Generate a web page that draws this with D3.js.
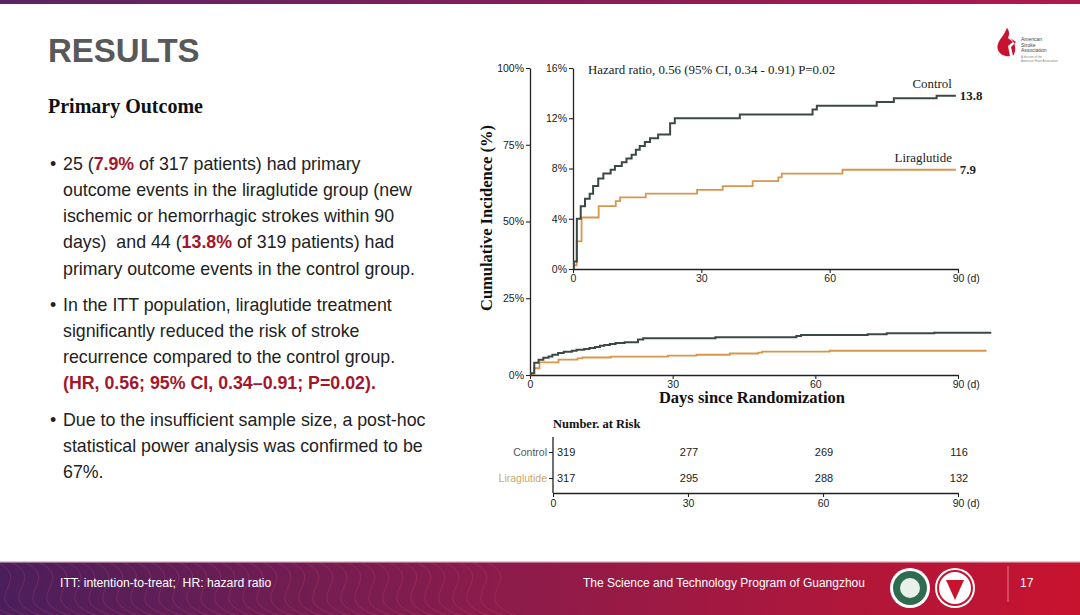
<!DOCTYPE html>
<html><head><meta charset="utf-8">
<script src="https://cdn.jsdelivr.net/npm/d3@7"></script>
<style>
html,body{margin:0;padding:0;background:#fff;}
svg{display:block;}
</style></head>
<body>
<svg id="c" width="1080" height="615"></svg>
<script>
// ---------------- data ----------------
const controlDays = [0, 0.2, 0.9, 1.8, 2.8, 3.9, 4.7, 5.9, 7.1, 8.8, 9.8, 11.4, 12.5, 13.7, 14.7, 15.6, 16.8, 18.0, 19.9, 22.7, 23.8, 39, 56, 57, 71, 75, 85];
const controlPct  = [0, 0.6, 4.0, 5.0, 5.6, 6.0, 6.6, 7.2, 7.6, 7.9, 8.2, 8.5, 8.8, 9.1, 9.5, 9.8, 10.1, 10.4, 10.7, 11.6, 12.0, 12.3, 12.7, 13.0, 13.3, 13.6, 13.8];
const liraDays = [0, 0.2, 0.85, 2.0, 6.0, 10, 11, 17, 29, 35, 42, 48, 48.8, 63];
const liraPct  = [0, 0.3, 2.2, 4.1, 5.0, 5.4, 5.7, 6.0, 6.3, 6.6, 7.0, 7.3, 7.6, 7.9];
const groups = ["Control", "Liraglutide"];
const followUpEnd = [97, 96];          // last follow-up day per group (outer panel)
const finalPct = ["13.8", "7.9"];
const outerTicks = [0, 25, 50, 75, 100];
const insetTicks = [0, 4, 8, 12, 16];
const dayTicks = [0, 30, 60, 90];
const riskTimes = [0, 30, 60, 90];
const controlRisk = [319, 277, 269, 116];
const liraRisk = [317, 295, 288, 132];
const hazardText = "Hazard ratio, 0.56 (95% CI, 0.34 - 0.91) P=0.02";

// ---------------- setup ----------------
const svg = d3.select("#c");
const SANS = "'Liberation Sans', Arial, sans-serif";
const SERIF = "'Liberation Serif', 'Times New Roman', serif";
const colors = ["#3b4845", "#d8964c"];
const RED = "#a3162c";
const defs = svg.append("defs");

// top band
const tg = defs.append("linearGradient").attr("id","tg");
tg.append("stop").attr("offset","0%").attr("stop-color","#5b2466");
tg.append("stop").attr("offset","100%").attr("stop-color","#b0184a");
svg.append("rect").attr("x",0).attr("y",0).attr("width",1080).attr("height",4).attr("fill","url(#tg)");

// footer band
const fg = defs.append("linearGradient").attr("id","fg");
fg.append("stop").attr("offset","0%").attr("stop-color","#4a1f5c");
fg.append("stop").attr("offset","45%").attr("stop-color","#8a1c4c");
fg.append("stop").attr("offset","100%").attr("stop-color","#c8132f");
svg.append("rect").attr("x",0).attr("y",561).attr("width",1080).attr("height",54).attr("fill","url(#fg)");
svg.append("rect").attr("x",0).attr("y",561).attr("width",1080).attr("height",1.5).attr("fill","#e8c8d4");
// decorative wave lines
const waveG = svg.append("g").attr("opacity",0.22);
for (let i = 0; i < 40; i++) {
  const x0 = -60 + i * 14;
  waveG.append("path")
    .attr("d", `M${x0},562 C${x0+40},580 ${x0-20},598 ${x0+30},615`)
    .attr("fill","none").attr("stroke","#ff4d6d").attr("stroke-width",1);
}
svg.append("text").attr("x",60).attr("y",587).attr("fill","#fff").attr("font-family",SANS).attr("font-size",12.2)
  .attr("xml:space","preserve").style("white-space","pre")
  .text("ITT: intention-to-treat;  HR: hazard ratio");
svg.append("text").attr("x",583).attr("y",587).attr("fill","#fff").attr("font-family",SANS).attr("font-size",12)
  .text("The Science and Technology Program of Guangzhou");
// logos
svg.append("circle").attr("cx",910).attr("cy",588).attr("r",20).attr("fill","#fff");
svg.append("circle").attr("cx",910).attr("cy",588).attr("r",17).attr("fill","#2f6b4f");
svg.append("circle").attr("cx",910).attr("cy",588).attr("r",10).attr("fill","#e9efe9");
svg.append("circle").attr("cx",955).attr("cy",588).attr("r",20).attr("fill","#fff");
svg.append("circle").attr("cx",955).attr("cy",588).attr("r",17).attr("fill","none").attr("stroke","#c8132f").attr("stroke-width",2);
svg.append("path").attr("d","M946,580 L964,580 L955,600 Z").attr("fill","#c8132f");
svg.append("line").attr("x1",1008).attr("x2",1008).attr("y1",566).attr("y2",602).attr("stroke","#fff").attr("stroke-opacity",0.45);
svg.append("text").attr("x",1020).attr("y",587).attr("fill","#fff").attr("font-family",SANS).attr("font-size",12).text("17");

// ASA logo top-right
svg.append("path").attr("d","M1004,34 C1000,40 996,44 998,50 C1000,55 1006,57 1010,56 L1008,46 L1013,42 L1008,38 C1010,34 1009,30 1007,28 Z")
  .attr("fill","#c8132f");
svg.append("path").attr("d","M1010,38 L1016,42 L1011,47 L1013,56 C1016,52 1017,44 1010,38 Z").attr("fill","#c8132f");
["American","Stroke","Association"].forEach((t,i)=>{
  svg.append("text").attr("x",1021).attr("y",41+i*5.5).attr("font-family",SANS).attr("font-size",5).attr("fill","#444").text(t);
});
svg.append("text").attr("x",1021).attr("y",58).attr("font-family",SANS).attr("font-size",3).attr("fill","#888").text("A division of the");
svg.append("text").attr("x",1021).attr("y",61.5).attr("font-family",SANS).attr("font-size",3).attr("fill","#888").text("American Heart Association");

// ---------------- left text ----------------
svg.append("text").attr("x",48).attr("y",62).attr("font-family",SANS).attr("font-weight","bold")
  .attr("font-size",33).attr("fill","#595959").text("RESULTS");
svg.append("text").attr("x",48).attr("y",113).attr("font-family",SERIF).attr("font-weight","bold")
  .attr("font-size",20).attr("fill","#111").text("Primary Outcome");

const bulletLines = [
  {y:170, bullet:true, parts:[["25 (",0],["7.9%",1],[" of 317 patients) had primary",0]]},
  {y:196, parts:[["outcome events in the liraglutide group (new",0]]},
  {y:222, parts:[["ischemic or hemorrhagic strokes within 90",0]]},
  {y:248, parts:[["days)  and 44 (",0],["13.8%",1],[" of 319 patients) had",0]]},
  {y:275, parts:[["primary outcome events in the control group.",0]]},
  {y:311, bullet:true, parts:[["In the ITT population, liraglutide treatment",0]]},
  {y:337, parts:[["significantly reduced the risk of stroke",0]]},
  {y:363, parts:[["recurrence compared to the control group.",0]]},
  {y:389, parts:[["(HR, 0.56; 95% CI, 0.34\u20130.91; P=0.02).",1]]},
  {y:426, bullet:true, parts:[["Due to the insufficient sample size, a post-hoc",0]]},
  {y:452, parts:[["statistical power analysis was confirmed to be",0]]},
  {y:478, parts:[["67%.",0]]}
];
const BF = 17.8;
bulletLines.forEach(l=>{
  if (l.bullet) svg.append("text").attr("x",50).attr("y",l.y).attr("font-family",SANS).attr("font-size",BF).attr("fill","#222").text("\u2022");
  const t = svg.append("text").attr("x",63).attr("y",l.y).attr("font-family",SANS).attr("font-size",BF).attr("fill","#222")
    .attr("xml:space","preserve").style("white-space","pre");
  l.parts.forEach(p=>{
    t.append("tspan").text(p[0]).attr("fill",p[1]?RED:"#222").attr("font-weight",p[1]?"bold":"normal");
  });
});

// ---------------- chart ----------------
const series = [
  {name:groups[0], days:controlDays, pct:controlPct, end:followUpEnd[0], color:colors[0], w:2},
  {name:groups[1], days:liraDays, pct:liraPct, end:followUpEnd[1], color:colors[1], w:1.8}
];
series.forEach(s=>{
  s.pts = s.days.map((d,i)=>[d, s.pct[i]]);
  s.pts.push([s.end, s.pct[s.pct.length-1]]);
});

function styleAxis(a){
  a.selectAll("path").attr("stroke","#222").attr("stroke-width",1.3);
  a.selectAll("line").attr("stroke","#222").attr("stroke-width",1.1);
  a.selectAll("text").attr("font-family",SANS).attr("font-size",10.5).attr("fill","#222");
}
function addD(g, xpos, base){
  g.append("text").attr("x",xpos+9).attr("y",base)
    .attr("font-family",SANS).attr("font-size",10.5).attr("fill","#222").text("(d)");
}
function drawAxes(g, x, y, yTicks, yFmt){
  const xa = g.append("g").attr("transform",`translate(0,${y.range()[0]})`)
    .call(d3.axisBottom(x).tickValues(dayTicks).tickSize(4).tickSizeOuter(0).tickFormat(d=>d));
  const ya = g.append("g").attr("transform",`translate(${x.range()[0]},0)`)
    .call(d3.axisLeft(y).tickValues(yTicks).tickSize(4).tickSizeOuter(0).tickFormat(yFmt));
  styleAxis(xa); styleAxis(ya);
  xa.selectAll("text").attr("dy",null).attr("y",13);
  ya.selectAll("text").attr("x",-6);
  addD(g, x(90), y.range()[0]+13);
}

// outer panel
const xo = d3.scaleLinear([0,90],[530,958]);
const yo = d3.scaleLinear([0,100],[375,68]);
const go = svg.append("g");
drawAxes(go, xo, yo, outerTicks, d=>d+"%");
const lineO = d3.line().x(d=>xo(d[0])).y(d=>yo(d[1])).curve(d3.curveStepAfter);
series.slice().reverse().forEach(s=>{
  go.append("path").attr("d",lineO(s.pts)).attr("fill","none").attr("stroke",s.color).attr("stroke-width",s.w);
});

// inset panel
const xi = d3.scaleLinear([0,90],[573,958]);
const yi = d3.scaleLinear([0,16],[269,68]);
const gi = svg.append("g");
drawAxes(gi, xi, yi, insetTicks, d=>d+"%");
defs.append("clipPath").attr("id","ic").append("rect")
  .attr("x",xi(0)).attr("y",yi(16)-5).attr("width",xi(89.5)-xi(0)).attr("height",yi(0)-yi(16)+5);
const lineI = d3.line().x(d=>xi(d[0])).y(d=>yi(d[1])).curve(d3.curveStepAfter);
series.slice().reverse().forEach(s=>{
  gi.append("path").attr("d",lineI(s.pts)).attr("clip-path","url(#ic)")
    .attr("fill","none").attr("stroke",s.color).attr("stroke-width",s.w);
});
gi.append("text").attr("x",588).attr("y",74).attr("font-family",SERIF).attr("font-size",12.9).attr("fill","#222").text(hazardText);
// group labels at curve ends
series.forEach((s,i)=>{
  const last = s.pct[s.pct.length-1];
  gi.append("text").attr("x",xi(89.5)-4).attr("y",yi(last)-8).attr("text-anchor","end")
    .attr("font-family",SERIF).attr("font-size",12.9).attr("fill","#222").text(s.name);
  gi.append("text").attr("x",xi(89.5)+4).attr("y",yi(last)+4.5)
    .attr("font-family",SERIF).attr("font-weight","bold").attr("font-size",12.9).attr("fill","#222").text(finalPct[i]);
});

// axis titles
svg.append("text").attr("transform","translate(492,218) rotate(-90)").attr("text-anchor","middle")
  .attr("font-family",SERIF).attr("font-weight","bold").attr("font-size",16.5).attr("fill","#111")
  .text("Cumulative Incidence (%)");
svg.append("text").attr("x",752).attr("y",403).attr("text-anchor","middle")
  .attr("font-family",SERIF).attr("font-weight","bold").attr("font-size",16.5).attr("fill","#111")
  .text("Days since Randomization");

// ---------------- risk table ----------------
const xr = d3.scaleLinear([0,90],[553,958]);
const yr = d3.scalePoint().domain(groups).range([452,478]);
const gr = svg.append("g");
gr.append("text").attr("x",553).attr("y",428).attr("font-family",SERIF).attr("font-weight","bold")
  .attr("font-size",12.5).attr("fill","#111").text("Number. at Risk");
const xra = gr.append("g").attr("transform","translate(0,493)")
  .call(d3.axisBottom(xr).tickValues(dayTicks).tickSize(4).tickSizeOuter(0));
const yra = gr.append("g").attr("transform","translate(553,0)")
  .call(d3.axisLeft(yr).tickSize(4).tickSizeOuter(0));
yra.select("path").attr("d","M0,437V493");
styleAxis(xra); styleAxis(yra);
xra.selectAll("text").attr("dy",null).attr("y",14);
yra.selectAll("text").attr("x",-6).attr("fill",(d,i)=>i===0?"#555":"#c9a66e");
addD(gr, xr(90), 507);
[controlRisk, liraRisk].forEach((arr,gi2)=>{
  arr.forEach((v,i)=>{
    gr.append("text").attr("x", i===0 ? xr(riskTimes[i])+4 : xr(riskTimes[i])+1)
      .attr("y", yr(groups[gi2])+4).attr("text-anchor", i===0?"start":"middle")
      .attr("font-family",SANS).attr("font-size",11).attr("fill","#222").text(v);
  });
});
</script>
</body></html>
